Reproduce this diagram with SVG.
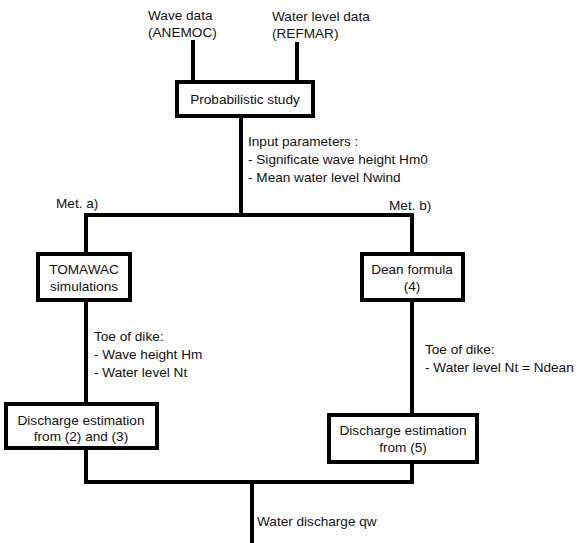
<svg xmlns="http://www.w3.org/2000/svg" width="577" height="543" viewBox="0 0 577 543">
<style>
text{font-family:"Liberation Sans",Arial,sans-serif;font-size:13.6px;fill:#111}
.c{text-anchor:middle}
.box{fill:#fff;stroke:#000;stroke-width:4}
.ln{fill:none;stroke:#000;stroke-width:4}
</style>
<rect width="577" height="543" fill="#fff"/>
<g id="connectors">
<line class="ln" x1="193" y1="40" x2="193" y2="82"/>
<line class="ln" x1="297" y1="42" x2="297" y2="82"/>
<line class="ln" x1="241" y1="116" x2="241" y2="215"/>
<polyline class="ln" points="86,253 86,215 412,215 412,253"/>
<line class="ln" x1="86" y1="300" x2="86" y2="404"/>
<line class="ln" x1="412" y1="300" x2="412" y2="415"/>
<polyline class="ln" points="86,448 86,482 412,482 412,462"/>
<line class="ln" x1="252" y1="482" x2="252" y2="543"/>
</g>
<g id="labels">
<text x="148" y="20">Wave data</text>
<text x="148" y="37">(ANEMOC)</text>
<text x="272" y="21">Water level data</text>
<text x="272" y="38">(REFMAR)</text>
<text x="248" y="146">Input parameters :</text>
<text x="248" y="164">- Significate wave height Hm0</text>
<text x="248" y="182">- Mean water level Nwind</text>
<text x="56" y="208">Met. a)</text>
<text x="389" y="210">Met. b)</text>
<text x="94" y="341">Toe of dike:</text>
<text x="94" y="359">- Wave height Hm</text>
<text x="94" y="377">- Water level Nt</text>
<text x="425" y="354">Toe of dike:</text>
<text x="425" y="372">- Water level Nt = Ndean</text>
<text x="257" y="526">Water discharge qw</text>
</g>
<g id="probabilistic">
<rect class="box" x="177" y="82" width="136" height="34"/>
<text class="c" x="245" y="104">Probabilistic study</text>
</g>
<g id="tomawac">
<rect class="box" x="38" y="254" width="92" height="46"/>
<text class="c" x="84" y="274">TOMAWAC</text>
<text class="c" x="84" y="291">simulations</text>
</g>
<g id="dean">
<rect class="box" x="362" y="254" width="101" height="46"/>
<text class="c" x="412" y="274">Dean formula</text>
<text class="c" x="412" y="291">(4)</text>
</g>
<g id="discharge-a">
<rect class="box" x="6" y="404" width="151" height="44"/>
<text class="c" x="81" y="425">Discharge estimation</text>
<text class="c" x="81" y="441">from (2) and (3)</text>
</g>
<g id="discharge-b">
<rect class="box" x="329" y="415" width="148" height="47"/>
<text class="c" x="403" y="435">Discharge estimation</text>
<text class="c" x="403" y="452">from (5)</text>
</g>
</svg>
